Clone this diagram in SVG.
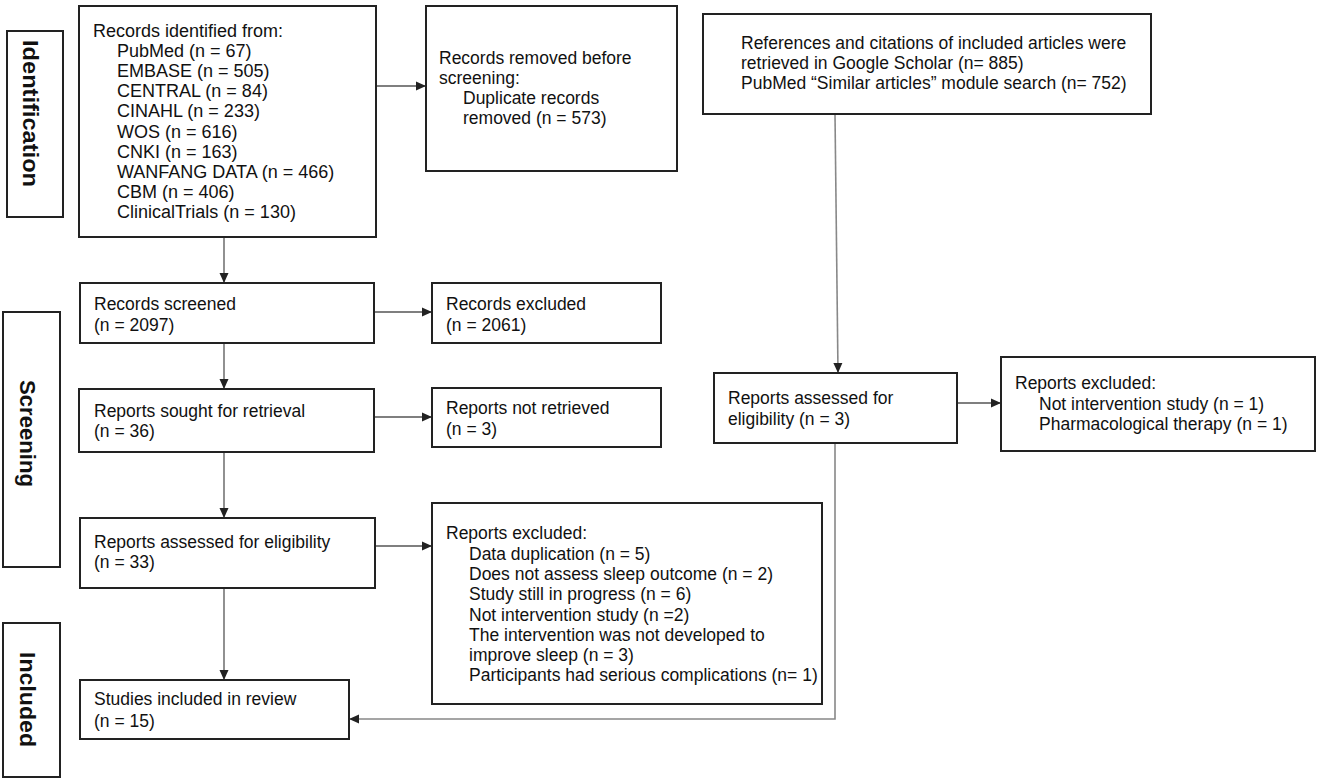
<svg xmlns="http://www.w3.org/2000/svg" width="1325" height="781" viewBox="0 0 1325 781">
<style>
.box{fill:#fff;stroke:#222;stroke-width:2}
.t{font-family:"Liberation Sans",Arial,sans-serif;font-size:17.5px;fill:#111}
.t18{font-size:18px}
.lab{font-family:"Liberation Sans",Arial,sans-serif;font-size:22px;font-weight:bold;fill:#111}
.c{fill:none;stroke:#555;stroke-width:1.3}
.g{fill:none;stroke:#888;stroke-width:1.6}
</style>
<defs>
<marker id="ah" viewBox="0 0 10 10" refX="10" refY="5" markerWidth="10" markerHeight="10" markerUnits="userSpaceOnUse" orient="auto">
<path d="M0,0.5 L10,5 L0,9.5 z" fill="#222"/>
</marker>
</defs>
<rect width="1325" height="781" fill="#fff"/>

<g id="label-identification">
<rect class="box" x="7" y="31" width="56" height="186"/>
<text class="lab" transform="translate(23,40) rotate(90)" textLength="147" lengthAdjust="spacingAndGlyphs">Identification</text>
</g>
<g id="label-screening">
<rect class="box" x="3" y="312" width="57" height="255"/>
<text class="lab" transform="translate(20,380) rotate(90)" textLength="107" lengthAdjust="spacingAndGlyphs">Screening</text>
</g>
<g id="label-included">
<rect class="box" x="3" y="623" width="57" height="154"/>
<text class="lab" transform="translate(20,652) rotate(90)" textLength="95" lengthAdjust="spacingAndGlyphs">Included</text>
</g>

<g id="connectors">
<line class="c" x1="376" y1="86" x2="426" y2="86" marker-end="url(#ah)"/>
<line class="c" x1="224" y1="237" x2="224" y2="283" marker-end="url(#ah)"/>
<line class="c" x1="374" y1="312" x2="432" y2="312" marker-end="url(#ah)"/>
<line class="c" x1="224" y1="343" x2="224" y2="389" marker-end="url(#ah)"/>
<line class="c" x1="374" y1="417" x2="432" y2="417" marker-end="url(#ah)"/>
<line class="c" x1="224" y1="452" x2="224" y2="518" marker-end="url(#ah)"/>
<line class="c" x1="375" y1="546" x2="432" y2="546" marker-end="url(#ah)"/>
<line class="c" x1="224" y1="588" x2="224" y2="680" marker-end="url(#ah)"/>
<line class="g" x1="835" y1="114" x2="838" y2="373" marker-end="url(#ah)"/>
<line class="c" x1="957" y1="403" x2="1001" y2="403" marker-end="url(#ah)"/>
<polyline class="g" points="835,443 835,719 349,719" marker-end="url(#ah)"/>
</g>

<g id="records-identified">
<rect class="box" x="79" y="6" width="297" height="231"/>
<text class="t t18" x="93" y="37">Records identified from:</text>
<text class="t t18" x="117" y="57">PubMed (n = 67)</text>
<text class="t t18" x="117" y="77">EMBASE (n = 505)</text>
<text class="t t18" x="117" y="97">CENTRAL (n = 84)</text>
<text class="t t18" x="117" y="117">CINAHL (n = 233)</text>
<text class="t t18" x="117" y="138">WOS (n = 616)</text>
<text class="t t18" x="117" y="158">CNKI (n = 163)</text>
<text class="t t18" x="117" y="178">WANFANG DATA (n = 466)</text>
<text class="t t18" x="117" y="198">CBM (n = 406)</text>
<text class="t t18" x="117" y="218">ClinicalTrials (n = 130)</text>
</g>

<g id="records-removed">
<rect class="box" x="426" y="6" width="251" height="165"/>
<text class="t" x="439" y="64">Records removed before</text>
<text class="t" x="439" y="84">screening:</text>
<text class="t" x="463" y="104">Duplicate records</text>
<text class="t" x="463" y="124">removed (n = 573)</text>
</g>

<g id="other-sources">
<rect class="box" x="703" y="14" width="448" height="100"/>
<text class="t" x="741" y="49">References and citations of included articles were</text>
<text class="t" x="741" y="69">retrieved in Google Scholar (n= 885)</text>
<text class="t" x="741" y="89">PubMed “Similar articles” module search (n= 752)</text>
</g>

<g id="records-screened">
<rect class="box" x="80" y="283" width="294" height="60"/>
<text class="t" x="94" y="310">Records screened</text>
<text class="t" x="94" y="331">(n = 2097)</text>
</g>

<g id="records-excluded">
<rect class="box" x="432" y="283" width="229" height="60"/>
<text class="t" x="446" y="310">Records excluded</text>
<text class="t" x="446" y="331">(n = 2061)</text>
</g>

<g id="reports-sought">
<rect class="box" x="79" y="389" width="295" height="63"/>
<text class="t" x="94" y="417">Reports sought for retrieval</text>
<text class="t" x="94" y="437">(n = 36)</text>
</g>

<g id="reports-not-retrieved">
<rect class="box" x="432" y="388" width="229" height="59"/>
<text class="t" x="446" y="414">Reports not retrieved</text>
<text class="t" x="446" y="435">(n = 3)</text>
</g>

<g id="reports-assessed">
<rect class="box" x="80" y="518" width="295" height="70"/>
<text class="t" x="94" y="548">Reports assessed for eligibility</text>
<text class="t" x="94" y="568">(n = 33)</text>
</g>

<g id="reports-excluded">
<rect class="box" x="432" y="503" width="390" height="201"/>
<text class="t" x="446" y="539">Reports excluded:</text>
<text class="t" x="469" y="560">Data duplication (n = 5)</text>
<text class="t" x="469" y="580">Does not assess sleep outcome (n = 2)</text>
<text class="t" x="469" y="600">Study still in progress (n = 6)</text>
<text class="t" x="469" y="621">Not intervention study (n =2)</text>
<text class="t" x="469" y="641">The intervention was not developed to</text>
<text class="t" x="469" y="661">improve sleep (n = 3)</text>
<text class="t" x="469" y="681">Participants had serious complications (n= 1)</text>
</g>

<g id="studies-included">
<rect class="box" x="80" y="680" width="269" height="59"/>
<text class="t" x="94" y="705">Studies included in review</text>
<text class="t" x="94" y="727">(n = 15)</text>
</g>

<g id="other-assessed">
<rect class="box" x="714" y="373" width="243" height="70"/>
<text class="t" x="728" y="404">Reports assessed for</text>
<text class="t" x="728" y="425">eligibility (n = 3)</text>
</g>

<g id="other-excluded">
<rect class="box" x="1001" y="357" width="314" height="94"/>
<text class="t" x="1015" y="389">Reports excluded:</text>
<text class="t" x="1039" y="410">Not intervention study (n = 1)</text>
<text class="t" x="1039" y="430">Pharmacological therapy (n = 1)</text>
</g>
</svg>
